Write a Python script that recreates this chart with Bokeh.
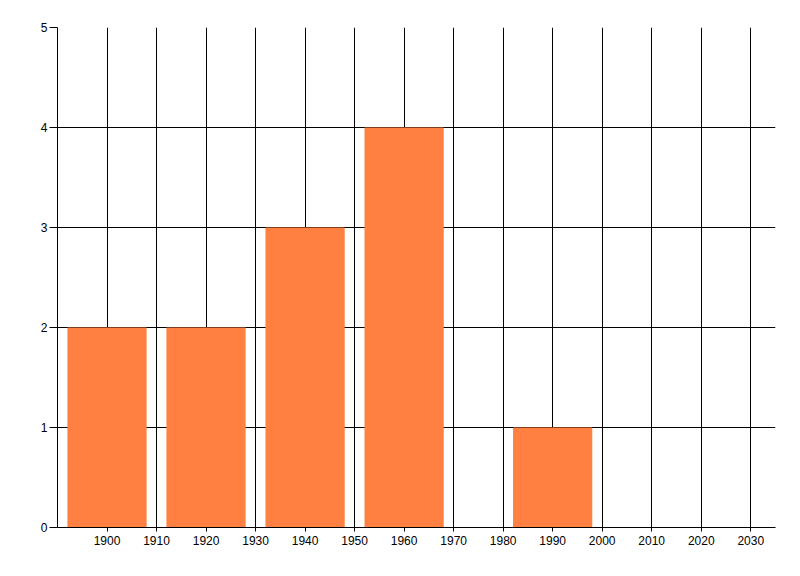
from bokeh.plotting import figure
from bokeh.models import FixedTicker, Range1d
from bokeh.embed import file_html
from bokeh.resources import INLINE

years = [1900, 1920, 1940, 1960, 1990]
counts = [2, 2, 3, 4, 1]
x_ticks = [1900, 1910, 1920, 1930, 1940, 1950, 1960, 1970, 1980, 1990, 2000, 2010, 2020, 2030]
y_ticks = [0, 1, 2, 3, 4, 5]

p = figure(frame_width=718, frame_height=500,
           min_border_left=57, min_border_top=27, min_border_right=17, min_border_bottom=41,
           x_range=Range1d(1890, 2035), y_range=Range1d(0, 5),
           output_backend="svg", toolbar_location=None)

p.vbar(x=years, top=counts, width=16, bottom=0, fill_color="#FF8040", line_color=None)

p.outline_line_color = None
p.background_fill_color = "white"
p.border_fill_color = "white"

p.xaxis.ticker = FixedTicker(ticks=x_ticks)
p.yaxis.ticker = FixedTicker(ticks=y_ticks)
for ax in (p.xaxis, p.yaxis):
    ax.axis_line_color = "black"
    ax.axis_line_width = 1
    ax.major_tick_line_color = "black"
    ax.minor_tick_line_color = None
    ax.major_tick_in = 0
    ax.major_label_text_font = "Liberation Sans"
    ax.major_label_text_font_size = "12px"
    ax.major_label_text_color = "black"
p.xaxis.major_tick_out = 4
p.xaxis.major_label_standoff = 4
p.yaxis.major_tick_out = 8
p.yaxis.major_label_standoff = 2

p.xgrid.ticker = FixedTicker(ticks=x_ticks)
p.ygrid.ticker = FixedTicker(ticks=y_ticks)
for g in (p.xgrid, p.ygrid):
    g.grid_line_color = "black"
    g.grid_line_width = 1
    g.grid_line_alpha = 1.0

open("out.html", "w").write(file_html(p, INLINE))
